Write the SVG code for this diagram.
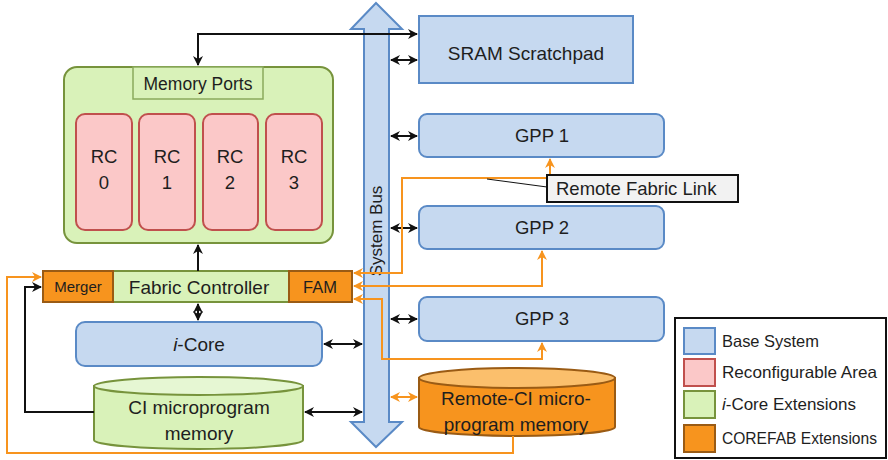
<svg xmlns="http://www.w3.org/2000/svg" width="888" height="460" viewBox="0 0 888 460">
<defs>
<style>
text{font-family:"Liberation Sans",Arial,sans-serif;fill:#1e1e1e}
.blue{fill:#c6d9f0;stroke:#5a8ac6;stroke-width:2}
.red{fill:#fbc8c8;stroke:#c0504d;stroke-width:2}
.green{fill:#d9f2b9;stroke:#77933c;stroke-width:2}
.orange{fill:#f7941e;stroke:#9a5b14;stroke-width:2}
.bk{fill:none;stroke:#111;stroke-width:2}
.or{fill:none;stroke:#f7941e;stroke-width:2}
.c{text-anchor:middle}
</style>
<marker id="ab" viewBox="0 0 10 10" refX="9" refY="5" markerWidth="5" markerHeight="5" orient="auto-start-reverse" markerUnits="strokeWidth">
<path d="M0,0 L10,5 L0,10 L3,5 z" fill="#111"/>
</marker>
<marker id="ao" viewBox="0 0 10 10" refX="9" refY="5" markerWidth="5" markerHeight="5" orient="auto-start-reverse" markerUnits="strokeWidth">
<path d="M0,0 L10,5 L0,10 L3,5 z" fill="#f7941e"/>
</marker>
</defs>

<g id="system-bus">
<path class="blue" d="M376,3 L402,29 L389,29 L389,422 L402,422 L376,447 L351,422 L364,422 L364,29 L351,29 Z"/>
<text class="c" font-size="17" transform="translate(382,231) rotate(-90)">System Bus</text>
</g>

<g id="sram">
<rect class="blue" x="419" y="16" width="214" height="67"/>
<text class="c" x="526" y="60" font-size="19">SRAM Scratchpad</text>
</g>
<g id="gpp1">
<rect class="blue" x="419" y="114" width="245" height="43" rx="8"/>
<text class="c" x="542" y="142" font-size="18.5">GPP 1</text>
</g>
<g id="gpp2">
<rect class="blue" x="419" y="206" width="245" height="43" rx="8"/>
<text class="c" x="542" y="234" font-size="18.5">GPP 2</text>
</g>
<g id="gpp3">
<rect class="blue" x="419" y="297" width="245" height="44" rx="8"/>
<text class="c" x="542" y="325" font-size="18.5">GPP 3</text>
</g>

<g id="reconfig-container">
<rect class="green" x="64" y="67" width="269" height="176" rx="13"/>
</g>
<g id="memory-ports">
<rect fill="#d9f2b9" stroke="#8aaa5c" stroke-width="1.5" x="133" y="67" width="130" height="32"/>
<text class="c" x="198" y="90" font-size="17.5">Memory Ports</text>
</g>
<g id="rc0">
<rect class="red" x="76" y="114" width="56" height="116" rx="9"/>
<text class="c" x="104" y="163" font-size="18.5">RC</text>
<text class="c" x="104" y="189" font-size="18.5">0</text>
</g>
<g id="rc1">
<rect class="red" x="139" y="114" width="56" height="116" rx="9"/>
<text class="c" x="167" y="163" font-size="18.5">RC</text>
<text class="c" x="167" y="189" font-size="18.5">1</text>
</g>
<g id="rc2">
<rect class="red" x="203" y="114" width="55" height="116" rx="9"/>
<text class="c" x="230" y="163" font-size="18.5">RC</text>
<text class="c" x="230" y="189" font-size="18.5">2</text>
</g>
<g id="rc3">
<rect class="red" x="266" y="114" width="56" height="116" rx="9"/>
<text class="c" x="294" y="163" font-size="18.5">RC</text>
<text class="c" x="294" y="189" font-size="18.5">3</text>
</g>

<g id="fabric-controller">
<rect class="green" x="43" y="271" width="309" height="31"/>
<text class="c" x="199" y="294" font-size="19">Fabric Controller</text>
</g>
<g id="merger">
<rect class="orange" x="43" y="271" width="70" height="31"/>
<text class="c" x="78" y="292" font-size="15">Merger</text>
</g>
<g id="fam">
<rect class="orange" x="289" y="271" width="63" height="31"/>
<text class="c" x="320" y="293" font-size="16.5">FAM</text>
</g>

<g id="icore">
<rect class="blue" x="76" y="322" width="246" height="44" rx="9"/>
<text class="c" x="199" y="351" font-size="19"><tspan font-style="italic">i</tspan>-Core</text>
</g>

<g id="ci-memory">
<path class="green" d="M94,386 L94,440 A104.5,9 0 0 0 303,440 L303,386 Z"/>
<ellipse cx="198.5" cy="386" rx="104.5" ry="9" fill="#e6f7d3" stroke="#77933c" stroke-width="2"/>
<text class="c" x="199" y="414" font-size="19">CI microprogram</text>
<text class="c" x="199" y="440" font-size="19">memory</text>
</g>

<g id="remote-ci-memory">
<path class="orange" d="M419,378 L419,427 A98,9 0 0 0 615,427 L615,378 Z"/>
<ellipse cx="517" cy="378" rx="98" ry="10" fill="#fbbf6c" stroke="#9a5b14" stroke-width="2"/>
<text class="c" x="516" y="405" font-size="19">Remote-CI micro-</text>
<text class="c" x="516" y="431" font-size="19">program memory</text>
</g>

<g id="connectors">
<path class="bk" d="M198,65 L198,34 L417,34" marker-start="url(#ab)" marker-end="url(#ab)"/>
<path class="bk" d="M391,60 L417,60" marker-start="url(#ab)" marker-end="url(#ab)"/>
<path class="bk" d="M391,136 L417,136" marker-start="url(#ab)" marker-end="url(#ab)"/>
<path class="bk" d="M391,228 L417,228" marker-start="url(#ab)" marker-end="url(#ab)"/>
<path class="bk" d="M391,319 L417,319" marker-start="url(#ab)" marker-end="url(#ab)"/>
<path class="bk" d="M198,271 L198,245" marker-end="url(#ab)"/>
<path class="bk" d="M198,304 L198,320" marker-start="url(#ab)" marker-end="url(#ab)"/>
<path class="bk" d="M324,344 L362,344" marker-start="url(#ab)" marker-end="url(#ab)"/>
<path class="bk" d="M305,412 L362,412" marker-start="url(#ab)" marker-end="url(#ab)"/>
<path class="bk" d="M94,412 L25,412 L25,287 L41,287" marker-end="url(#ab)"/>
<path class="or" d="M354,273 L402,273 L402,178 L550,178 L550,159" marker-start="url(#ao)" marker-end="url(#ao)"/>
<path class="or" d="M354,286 L542,286 L542,251" marker-start="url(#ao)" marker-end="url(#ao)"/>
<path class="or" d="M354,299 L382,299 L382,359 L542,359 L542,343" marker-start="url(#ao)" marker-end="url(#ao)"/>
<path class="or" d="M391,397 L417,397" marker-start="url(#ao)" marker-end="url(#ao)"/>
<path class="or" d="M513,436 L513,453 L7,453 L7,277 L41,277" marker-end="url(#ao)"/>
</g>

<g id="remote-fabric-link-label">
<line x1="487" y1="179" x2="547" y2="187" stroke="#111" stroke-width="1"/>
<rect x="547" y="175" width="191" height="27" fill="#f2f2f2" stroke="#111" stroke-width="2"/>
<text x="556" y="195" font-size="18.5">Remote Fabric Link</text>
</g>

<g id="legend">
<rect x="675" y="318" width="211" height="140" fill="#fff" stroke="#111" stroke-width="2"/>
<rect class="blue" x="684" y="328" width="31" height="26"/>
<text x="722" y="347" font-size="16.5" textLength="97" lengthAdjust="spacingAndGlyphs">Base System</text>
<rect class="red" x="684" y="359" width="31" height="27"/>
<text x="722" y="378" font-size="16.5" textLength="155" lengthAdjust="spacingAndGlyphs">Reconfigurable Area</text>
<rect class="green" x="684" y="391" width="31" height="27"/>
<text x="722" y="410" font-size="16.5" textLength="134" lengthAdjust="spacingAndGlyphs"><tspan font-style="italic">i</tspan>-Core Extensions</text>
<rect class="orange" x="684" y="425" width="31" height="27"/>
<text x="722" y="444" font-size="16.5" textLength="155" lengthAdjust="spacingAndGlyphs">COREFAB Extensions</text>
</g>
</svg>
